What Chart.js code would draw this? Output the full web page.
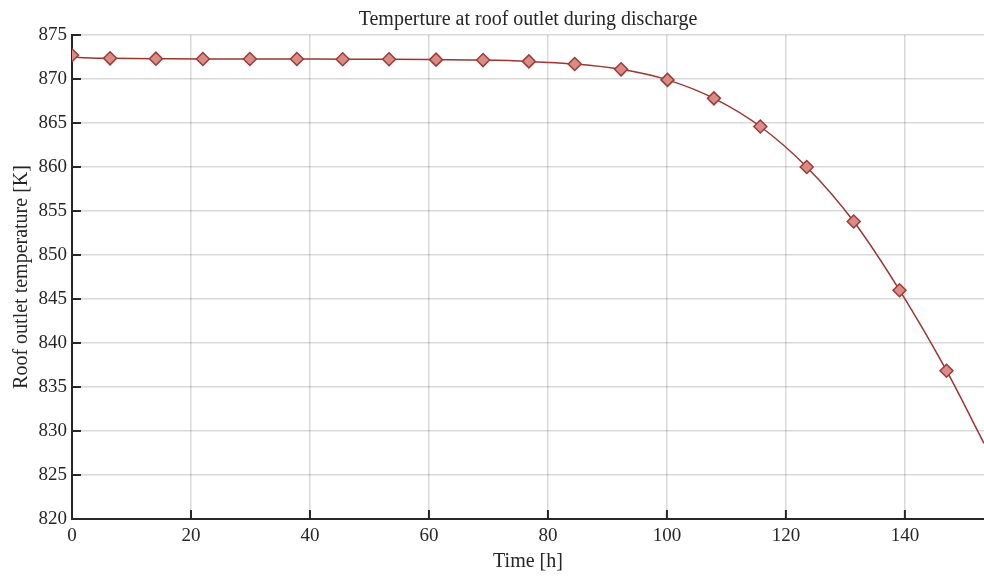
<!DOCTYPE html>
<html>
<head>
<meta charset="utf-8">
<script src="https://cdn.jsdelivr.net/npm/chart.js@4.4.1/dist/chart.umd.min.js"></script>
<style>
  html, body { margin: 0; padding: 0; background: #fff; }
  #wrap { width: 984px; height: 576px; }
</style>
</head>
<body>
<div id="wrap"><canvas id="chart"></canvas></div>
<script>
// marker samples along the discharge curve
const markerTime = [0, 6.4, 14.1, 22.0, 29.9, 37.8, 45.5, 53.3, 61.2, 69.1, 76.8, 84.5, 92.3, 100.1, 107.9, 115.7, 123.5, 131.4, 139.1, 147.0];
const markerTemp = [872.7, 872.35, 872.31, 872.28, 872.28, 872.27, 872.25, 872.24, 872.2, 872.15, 872.0, 871.7, 871.1, 869.9, 867.8, 864.6, 860.0, 853.8, 846.0, 836.85];

// extra curve points: sharp initial drop and tail past the last marker
const curveTimeExtra = [1.2, 153.3];
const curveTempExtra = [872.45, 828.6];

const xTicks = [0, 20, 40, 60, 80, 100, 120, 140];
const yTicks = [820, 825, 830, 835, 840, 845, 850, 855, 860, 865, 870, 875];

const markerPoints = markerTime.map((t, i) => ({ x: t, y: markerTemp[i] }));
const curvePoints = markerPoints
  .concat(curveTimeExtra.map((t, i) => ({ x: t, y: curveTempExtra[i] })))
  .sort((a, b) => a.x - b.x);

const FONT = "'Liberation Serif', 'DejaVu Serif', serif";
const INK = '#262626';

// matlab-style tick marks pointing into the plot area
const innerTicks = {
  id: 'innerTicks',
  afterDraw(chart) {
    const { ctx, chartArea, scales } = chart;
    const len = 9;
    ctx.save();
    ctx.strokeStyle = INK;
    ctx.lineWidth = 2;
    ctx.beginPath();
    xTicks.forEach(v => {
      const px = scales.x.getPixelForValue(v);
      ctx.moveTo(px, chartArea.bottom);
      ctx.lineTo(px, chartArea.bottom - len);
    });
    yTicks.forEach(v => {
      const py = scales.y.getPixelForValue(v);
      ctx.moveTo(chartArea.left, py);
      ctx.lineTo(chartArea.left + len, py);
    });
    ctx.stroke();
    ctx.restore();
  }
};

new Chart(document.getElementById('chart'), {
  type: 'scatter',
  data: {
    datasets: [
      {
        label: 'curve',
        data: curvePoints,
        showLine: true,
        borderColor: '#9b3631',
        borderWidth: 1.5,
        pointRadius: 0,
        cubicInterpolationMode: 'monotone',
        order: 2
      },
      {
        label: 'samples',
        data: markerPoints,
        showLine: false,
        pointStyle: 'rectRot',
        pointRadius: 6.5,
        pointBackgroundColor: '#d98c87',
        pointBorderColor: '#9e3a33',
        pointBorderWidth: 1.5,
        order: 1
      }
    ]
  },
  options: {
    responsive: true,
    maintainAspectRatio: false,
    animation: false,
    layout: { padding: 0, autoPadding: false },
    plugins: {
      legend: { display: false },
      tooltip: { enabled: false },
      title: {
        display: true,
        fullSize: false,
        text: 'Temperture at roof outlet during discharge',
        color: INK,
        font: { family: FONT, size: 20, weight: 'normal' },
        padding: { top: 8, bottom: 3 }
      }
    },
    scales: {
      x: {
        type: 'linear',
        min: 0,
        max: 153.3,
        afterBuildTicks: s => { s.ticks = xTicks.map(v => ({ value: v })); },
        afterFit: s => {
          s.height = 57;
          s.paddingLeft = 0;
          s.paddingRight = 0;
        },
        ticks: {
          color: INK,
          font: { family: FONT, size: 19 },
          padding: 6,
          maxRotation: 0
        },
        grid: { color: 'rgba(0,0,0,0.15)', lineWidth: 1.5, drawTicks: false },
        border: { color: INK, width: 2 },
        title: {
          display: true,
          text: 'Time [h]',
          color: INK,
          font: { family: FONT, size: 20 },
          padding: { top: 2, bottom: 2 }
        }
      },
      y: {
        min: 820,
        max: 875,
        afterBuildTicks: s => { s.ticks = yTicks.map(v => ({ value: v })); },
        afterFit: s => {
          s.width = 72;
          s.paddingTop = 0;
          s.paddingBottom = 0;
        },
        ticks: {
          color: INK,
          font: { family: FONT, size: 19 },
          padding: 5
        },
        grid: { color: 'rgba(0,0,0,0.15)', lineWidth: 1.5, drawTicks: false },
        border: { color: INK, width: 2 },
        title: {
          display: true,
          text: 'Roof outlet temperature [K]',
          color: INK,
          font: { family: FONT, size: 20 },
          padding: { top: 10, bottom: 0 }
        }
      }
    }
  },
  plugins: [innerTicks]
});
</script>
</body>
</html>
